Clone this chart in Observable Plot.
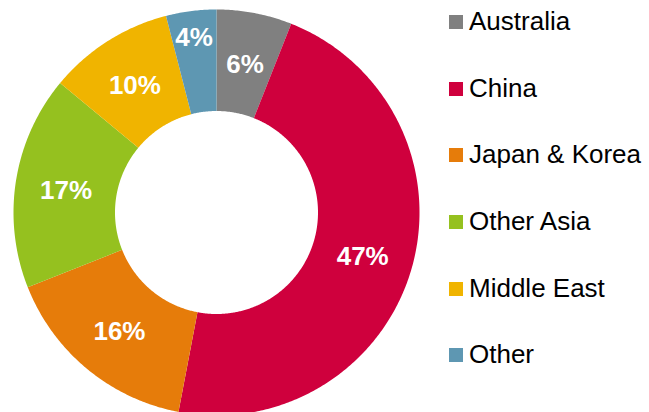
<!DOCTYPE html>
<html><head><meta charset="utf-8">
<script src="https://cdn.jsdelivr.net/npm/d3@7"></script>
<script src="https://cdn.jsdelivr.net/npm/@observablehq/plot@0.6"></script>
<style>
body{margin:0;background:#fff;}
#wrap{position:relative;width:649px;height:412px;overflow:hidden;font-family:"Liberation Sans",Arial,sans-serif;}
#legend{position:absolute;left:449px;top:-12px;}
.row{display:flex;align-items:center;height:66.6px;}
.sw{width:14px;height:14px;margin-right:6px;margin-top:2px;}
.lt{font-size:26px;line-height:1;color:#000;white-space:nowrap;}
</style></head><body><div id="wrap"></div>
<script>
const regions = ["Australia","China","Japan & Korea","Other Asia","Middle East","Other"];
const shares = [6,47,16,17,10,4];
const colors = ["#808080","#CF003D","#E67C0A","#95C11F","#F0B400","#5E97B2"];
const labels = ["6%","47%","16%","17%","10%","4%"];

const outerR = 1, innerR = 0.5;
const total = d3.sum(shares);
let acc = 0;
const slices = regions.map((name, i) => {
  const a0 = acc / total * 2 * Math.PI; acc += shares[i];
  const a1 = acc / total * 2 * Math.PI;
  // small slices get their label pushed outward (best-fit style)
  const lr = shares[i] < 5 ? 0.88 : 0.75;
  return {name, a0, a1, mid: (a0 + a1) / 2, lr, label: labels[i]};
});
const ring = [];
for (const s of slices) {
  const n = Math.max(2, Math.ceil((s.a1 - s.a0) / (Math.PI / 360)));
  for (let k = 0; k <= n; k++) { const a = s.a0 + (s.a1 - s.a0) * k / n; ring.push({name: s.name, x: outerR * Math.sin(a), y: outerR * Math.cos(a)}); }
  for (let k = n; k >= 0; k--) { const a = s.a0 + (s.a1 - s.a0) * k / n; ring.push({name: s.name, x: innerR * Math.sin(a), y: innerR * Math.cos(a)}); }
}

const chart = Plot.plot({
  width: 649, height: 412, margin: 0,
  style: {fontFamily: '"Liberation Sans", Arial, sans-serif', background: "transparent"},
  x: {domain: [-1, 1], range: [13, 419], axis: null},
  y: {domain: [-1, 1], range: [415, 9], axis: null},
  color: {domain: regions, range: colors},
  marks: [
    Plot.line(ring, {x: "x", y: "y", z: "name", fill: "name", stroke: null, curve: "linear-closed"}),
    Plot.text(slices, {x: d => d.lr * Math.sin(d.mid), y: d => d.lr * Math.cos(d.mid), text: "label", fill: "white", fontWeight: "bold", fontSize: 26, dy: 2})
  ]
});
const wrap = document.getElementById("wrap");
wrap.appendChild(chart);
const legend = document.createElement("div");
legend.id = "legend";
regions.forEach((r, i) => {
  const row = document.createElement("div"); row.className = "row";
  const sw = document.createElement("div"); sw.className = "sw"; sw.style.background = colors[i];
  const t = document.createElement("span"); t.className = "lt"; t.textContent = r;
  row.appendChild(sw); row.appendChild(t); legend.appendChild(row);
});
wrap.appendChild(legend);
</script></body></html>
